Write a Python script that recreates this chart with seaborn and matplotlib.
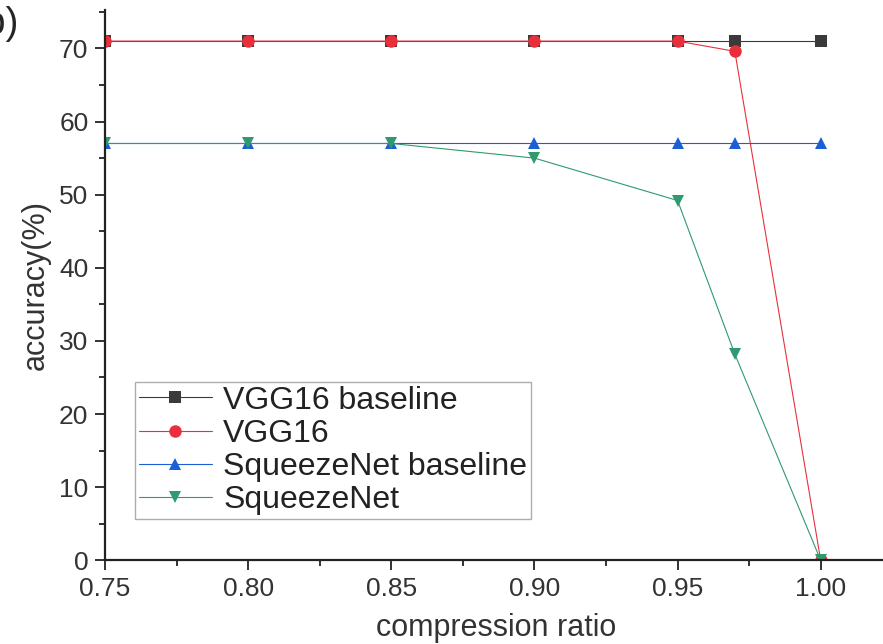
import pandas as pd
import matplotlib.pyplot as plt
import seaborn as sns
from matplotlib.ticker import MultipleLocator, FixedLocator

sns.set_style("ticks")
plt.rcParams['font.family'] = ['Liberation Sans', 'DejaVu Sans']

# data
ratio = [0.75, 0.80, 0.85, 0.90, 0.95, 0.97, 1.00]
vgg_base = [71, 71, 71, 71, 71, 71, 71]
vgg = [71, 71, 71, 71, 71, 69.6, 0]
sq_base = [57, 57, 57, 57, 57, 57, 57]
sq = [57, 57, 57, 55, 49.2, 28.2, 0]

names = ['VGG16 baseline', 'VGG16', 'SqueezeNet baseline', 'SqueezeNet']
colors = ['#3a3a3a', '#e8303c', '#1c5ed6', '#2f9a70']
markers = ['s', 'o', '^', 'v']

df = pd.DataFrame({'ratio': ratio * 4,
                   'acc': vgg_base + vgg + sq_base + sq,
                   'model': [n for n in names for _ in ratio]})

fig = plt.figure(figsize=(8.83, 6.44), dpi=100)
ax = fig.add_axes([0.119, 0.130, 0.885, 0.855])

for name, c, m in zip(names, colors, markers):
    sns.lineplot(data=df[df['model'] == name], x='ratio', y='acc', ax=ax,
                 color=c, marker=m, markersize=9, markeredgewidth=0,
                 linewidth=0.8, alpha=1, label=name)

ax.set_xlim(0.75, 1.023)
ax.set_ylim(0, 75.3)
ax.xaxis.set_major_locator(FixedLocator([0.75, 0.80, 0.85, 0.90, 0.95, 1.00]))
ax.xaxis.set_minor_locator(MultipleLocator(0.025))
ax.yaxis.set_major_locator(MultipleLocator(10))
ax.yaxis.set_minor_locator(MultipleLocator(5))
ax.set_xticklabels(['0.75', '0.80', '0.85', '0.90', '0.95', '1.00'])
ax.tick_params(which='major', length=7, width=1.3, labelsize=19, colors='#222222', labelcolor='#333333', pad=5)
ax.tick_params(which='minor', length=4, width=1.3, colors='#222222')

for s in ['top', 'right']:
    ax.spines[s].set_visible(False)
for s in ['left', 'bottom']:
    ax.spines[s].set_linewidth(1.6)
    ax.spines[s].set_color('#222222')
    ax.spines[s].set_clip_on(False)

ax.set_xlabel('compression ratio', fontsize=22, color='#333333', labelpad=9)
ax.set_ylabel('accuracy(%)', fontsize=22, color='#333333', labelpad=6)

leg = ax.legend(loc='lower left', bbox_to_anchor=(0.038, 0.075), fontsize=23,
                frameon=True, fancybox=False, handlelength=2.3,
                borderpad=0.12, labelspacing=0.1, handletextpad=0.35, borderaxespad=0)
leg.get_frame().set_edgecolor('#999999')
leg.get_frame().set_linewidth(1.0)
for t in leg.get_texts():
    t.set_color('#222222')

fig.text(0.022, 0.962, '(b)', ha='right', va='center', fontsize=28)

plt.savefig('out.png', dpi=100)
